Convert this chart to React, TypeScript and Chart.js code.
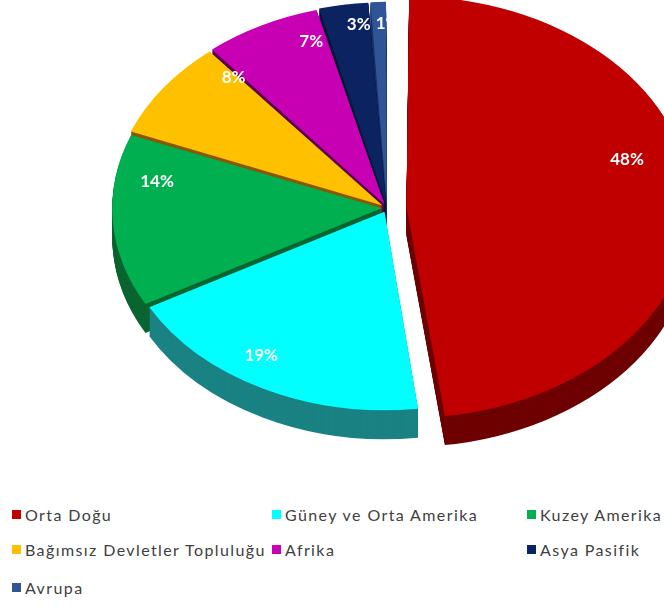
import React, { useEffect, useRef } from "react";
import { Chart, registerables } from "chart.js";

Chart.register(...registerables);

const categories = [
  "Orta Doğu",
  "Güney ve Orta Amerika",
  "Kuzey Amerika",
  "Bağımsız Devletler Topluluğu",
  "Afrika",
  "Asya Pasifik",
  "Avrupa",
];
const shares = [48, 19, 14, 8, 7, 3, 1];
const topColors = ["#C00000", "#00FFFF", "#00B050", "#FFC000", "#C800B4", "#0B2360", "#2F5597"];
const sideColors = ["#6E0000", "#1A8282", "#0A6530", "#8A5800", "#5A0052", "#061535", "#1A3366"];
const explode = [78, 22, 22, 22, 22, 22, 22];
const labelTurn = [-8, 3, 8, 10, 7, 2, 2];
const labelRadius = [0.84, 0.92, 0.84, 0.8, 0.8, 0.84, 0.84];

const TILT = 0.74;
const DEPTH = 29;

function applyTilt(ctx: CanvasRenderingContext2D, cx: number, cy: number) {
  ctx.translate(cx, cy);
  ctx.scale(1, TILT);
  ctx.translate(-cx, -cy);
}

const pie3d = {
  id: "pie3d",
  beforeDatasetsDraw(chart: any) {
    const ctx: CanvasRenderingContext2D = chart.ctx;
    const arcs = chart.getDatasetMeta(0).data;
    if (!arcs.length) return;
    const cx = arcs[0].x;
    const cy = arcs[0].y;
    for (let d = DEPTH; d >= 1; d--) {
      ctx.save();
      ctx.translate(0, d);
      applyTilt(ctx, cx, cy);
      arcs.forEach((arc: any, i: number) => {
        const proxy = Object.create(arc);
        proxy.options = Object.assign({}, arc.options, {
          backgroundColor: sideColors[i],
          borderColor: sideColors[i],
        });
        arc.draw.call(proxy, ctx);
      });
      ctx.restore();
    }
    ctx.save();
    applyTilt(ctx, cx, cy);
  },
  afterDatasetsDraw(chart: any) {
    const ctx: CanvasRenderingContext2D = chart.ctx;
    ctx.restore();
    const arcs = chart.getDatasetMeta(0).data;
    ctx.save();
    ctx.fillStyle = "#FFFFFF";
    ctx.font = "bold 17px Lato";
    ctx.textAlign = "center";
    ctx.textBaseline = "middle";
    arcs.forEach((arc: any, i: number) => {
      const half = (arc.startAngle + arc.endAngle) / 2;
      const mid = half + (labelTurn[i] * Math.PI) / 180;
      const off = (arc.options.offset || 0) / 4;
      const r = arc.outerRadius * labelRadius[i];
      const x = arc.x + Math.cos(half) * off + Math.cos(mid) * r;
      const y = arc.y + (Math.sin(half) * off + Math.sin(mid) * r) * TILT - 14;
      ctx.fillText(shares[i] + "%", x, y);
    });
    ctx.restore();
  },
};

export default function App() {
  const ref = useRef<HTMLCanvasElement>(null);
  useEffect(() => {
    if (!ref.current) return;
    const chart = new Chart(ref.current, {
      type: "pie",
      data: {
        labels: categories,
        datasets: [
          {
            data: shares,
            backgroundColor: topColors,
            borderWidth: 0,
            offset: explode,
          },
        ],
      },
      options: {
        responsive: false,
        animation: false,
        events: [],
        radius: 268,
        layout: { padding: { left: 110, right: 0, top: 0, bottom: 54 } },
        plugins: {
          legend: { display: false },
          tooltip: { enabled: false },
        },
      } as any,
      plugins: [pie3d],
    });
    return () => chart.destroy();
  }, []);

  const colLeft = [12, 272, 527];
  const rowTop = [504, 539, 577];

  return (
    <div style={{ position: "absolute", left: 0, top: 0, width: 664, height: 607, background: "#fff" }}>
      <canvas ref={ref} width={664} height={470} style={{ position: "absolute", left: 0, top: 0 }} />
      {categories.map((c, i) => (
        <div
          key={c}
          style={{
            position: "absolute",
            left: colLeft[i % 3],
            top: rowTop[Math.floor(i / 3)],
            height: 20,
            display: "flex",
            alignItems: "center",
            fontFamily: "Lato",
            fontSize: 16,
            letterSpacing: "1.4px",
            color: "#404040",
            whiteSpace: "nowrap",
          }}
        >
          <span style={{ display: "inline-block", width: 9, height: 9, background: topColors[i], marginRight: 4 }} />
          {c}
        </div>
      ))}
    </div>
  );
}
